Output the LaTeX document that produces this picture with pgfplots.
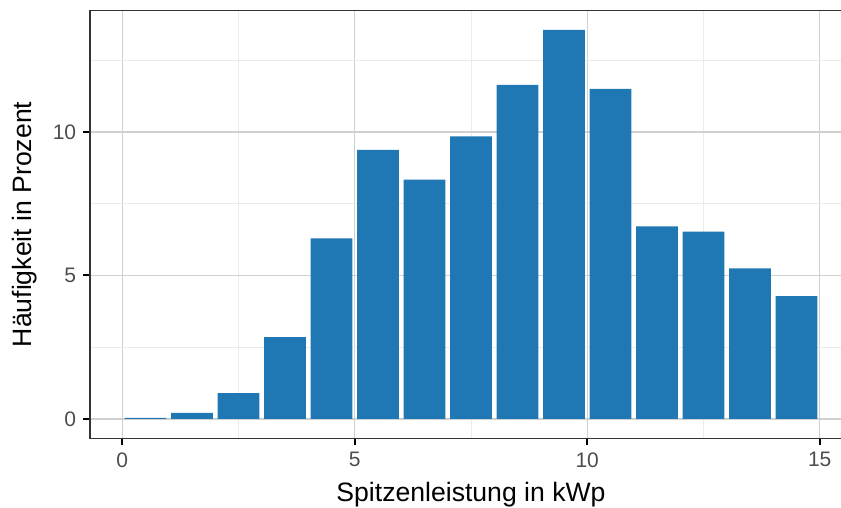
\documentclass[border=0pt]{standalone}
\usepackage{pgfplots}
\pgfplotsset{compat=1.18}
\usepackage{fontspec}
\setmainfont{Liberation Sans}
\definecolor{barblue}{HTML}{1F77B4}
\definecolor{majgrid}{HTML}{D0D0D0}
\definecolor{mingrid}{HTML}{EBEBEB}
\definecolor{ticklab}{HTML}{4D4D4D}
\definecolor{frame}{HTML}{333333}
\begin{document}
\begin{tikzpicture}
\begin{axis}[
  at={(0,0)}, anchor=south west,
  scale only axis, width=381pt, height=214.1pt,
  xmin=-0.695, xmax=15.695, ymin=-0.68, ymax=14.24,
  axis line style={frame, line width=0.65pt},
  xtick={0,5,10,15}, ytick={0,5,10},
  minor xtick={2.5,7.5,12.5}, minor ytick={2.5,7.5,12.5},
  grid=both,
  major grid style={majgrid, line width=0.6pt},
  minor grid style={mingrid, line width=0.5pt},
  tick align=outside, major tick length=3.4pt, minor tick length=0pt,
  tick style={black, line width=1pt},
  tick pos=left,
  ticklabel style={font=\fontsize{10.5}{12}\selectfont, text=ticklab},
  /pgf/number format/assume math mode=true,
  xlabel={Spitzenleistung in kWp}, ylabel={Häufigkeit in Prozent},
  label style={font=\fontsize{13.3}{16}\selectfont},
  xlabel style={at={(axis description cs:0.5,0)}, anchor=base, yshift=-31.5pt},
  ylabel style={at={(axis description cs:0,0.5)}, anchor=base, rotate=0, yshift=29pt},
  ybar, bar width=0.9, bar shift=0pt,
]
\addplot[fill=barblue, draw=none] coordinates {
  (0.5,0.035) (1.5,0.21) (2.5,0.90) (3.5,2.85) (4.5,6.29)
  (5.5,9.38) (6.5,8.34) (7.5,9.85) (8.5,11.64) (9.5,13.56)
  (10.5,11.50) (11.5,6.71) (12.5,6.53) (13.5,5.25) (14.5,4.28)
};
\end{axis}
\pgfresetboundingbox
\useasboundingbox (-45pt,-34.75pt) rectangle (375.5pt,219.25pt);
\end{tikzpicture}
\end{document}
